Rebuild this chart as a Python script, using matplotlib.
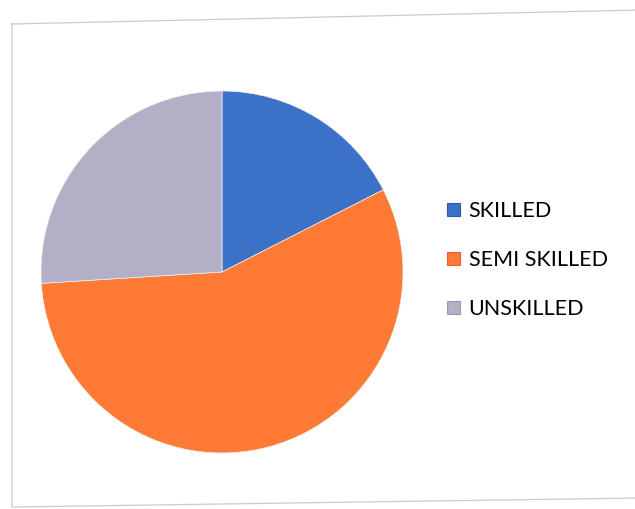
import matplotlib
matplotlib.use('Agg')
import matplotlib.pyplot as plt
from matplotlib.lines import Line2D
from matplotlib.patches import Patch

# 工人技能构成 (%)
categories = ['SKILLED', 'SEMI SKILLED', 'UNSKILLED']
shares = [17.5, 56.5, 26.0]
colors = ['#3b72c8', '#ff7a35', '#b3afc6']
edge_colors = ['#2c5aa8', '#e8602a', '#9a96b0']

W, H = 635, 509
fig = plt.figure(figsize=(W / 100, H / 100), dpi=100)
fig.patch.set_facecolor('white')

# 饼图区域（像素换算成 figure 比例）
cx, cy, r = 222, 272, 181
ax = fig.add_axes([(cx - r) / W, (H - cy - r) / H, 2 * r / W, 2 * r / H])
ax.pie(shares, colors=colors, startangle=90, counterclock=False, radius=1.0,
       wedgeprops=dict(edgecolor='#f4eef0', linewidth=0.5))
ax.set_xlim(-1.0, 1.0)
ax.set_ylim(-1.0, 1.0)
ax.set_aspect('equal')
ax.axis('off')

# 图例
handles = [Patch(facecolor=c, edgecolor=e, linewidth=0.8) for c, e in zip(colors, edge_colors)]
fig.legend(handles, categories, loc='center left',
           bbox_to_anchor=(447 / W, 1 - 260 / H),
           frameon=False, prop={'family': 'Lato', 'size': 15.5},
           handlelength=0.6, handleheight=0.6, handletextpad=0.4,
           labelspacing=1.35, borderpad=0, borderaxespad=0)

# 外框（略带倾斜）
def px(x, y):
    return x / W, 1 - y / H

frame = [(12, 24), (640, 10), (640, 498), (12, 507), (12, 24)]
xs, ys = zip(*[px(x, y) for x, y in frame])
fig.add_artist(Line2D(xs, ys, transform=fig.transFigure, color='#c9c9d2', linewidth=0.9))

plt.savefig('out.png', dpi=100, facecolor='white')
